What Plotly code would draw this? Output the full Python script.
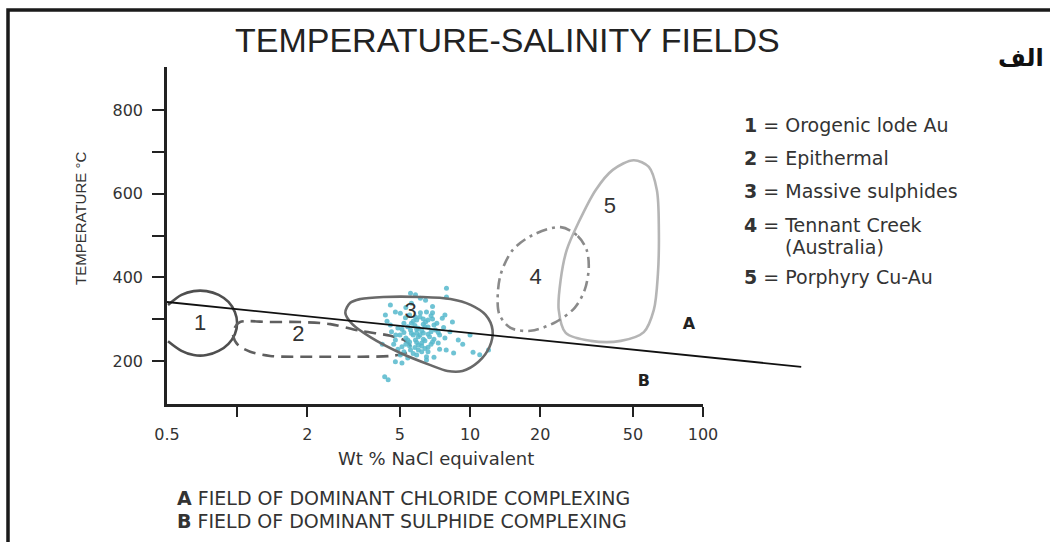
import math
import plotly.graph_objects as go

# ---------------- data (salinity wt% NaCl eq., temperature degC) ----------------
f1_sal = [0.505, 0.577, 0.651, 0.739, 0.833, 0.918, 0.978, 1.0, 0.978, 0.918, 0.833, 0.739, 0.651, 0.577, 0.505]
f1_temp = [334, 358, 367, 367, 358, 341, 317, 291, 264, 241, 224, 214, 214, 224, 247]

f2_sal = [1.03, 1.386, 1.866, 2.512, 3.381, 4.55, 5.278, 5.545, 5.278, 4.55, 3.381, 2.512, 1.866, 1.386, 1.138, 1.01, 0.961, 0.98, 1.03]
f2_temp = [293, 293, 293, 288, 272, 260, 248, 234, 219, 212, 210, 210, 210, 212, 222, 238, 262, 281, 293]

f3_sal = [2.914, 3.061, 3.381, 4.245, 6.124, 8.24, 10.05, 11.66, 12.49, 12.13, 10.87, 9.28, 8.0, 6.761, 5.024, 3.732, 3.123, 2.914]
f3_temp = [315, 339, 348, 353, 353, 348, 334, 310, 274, 234, 198, 176, 176, 190, 219, 257, 288, 315]

f4_sal = [24.49, 28.98, 31.68, 32.32, 31.06, 28.13, 23.31, 18.2, 14.93, 13.39, 13.13, 13.52, 15.23, 18.56, 24.49]
f4_temp = [520, 499, 465, 422, 370, 327, 293, 272, 279, 310, 346, 406, 465, 501, 520]

f5_sal = [50.46, 58.53, 63.37, 64.64, 64.0, 61.5, 55.72, 44.37, 32.97, 25.74, 24.02, 24.49, 25.99, 29.27, 34.64, 41.0, 50.46]
f5_temp = [680, 664, 609, 513, 406, 322, 269, 248, 248, 267, 322, 394, 465, 532, 609, 657, 680]

boundary_sal = [0.5, 264]
boundary_temp = [341, 186]

ms_sal = [5.55, 5.83, 6.12, 7.92, 7.92, 4.55, 4.78, 4.33, 5.02, 5.28, 5.83, 6.12, 6.44, 6.44, 4.55, 4.9, 5.55, 5.9, 5.3, 5.83, 6.2, 4.78, 5.1, 5.55, 5.02, 5.4, 5.9, 4.78, 5.1, 4.3, 4.45,
          6.5, 6.9, 7.6, 7.8, 8.4, 6.6, 7.1, 6.3, 7.4, 7.8, 6.9, 7.3, 6.6, 7.9, 8.5, 10.0, 10.3, 12.0, 7.0, 6.5, 7.4,
          5.6, 5.8, 6.0, 6.2, 5.7, 6.0, 6.3, 5.5, 6.0, 6.4, 5.2, 5.4, 6.7, 6.8, 5.0, 4.6, 4.4, 5.9, 6.1, 7.2,
          7.7, 6.9, 5.3, 5.7, 6.2, 6.5, 4.9, 5.3, 5.6, 6.9, 8.9, 9.3, 8.2, 11.0, 4.2,
          5.7, 6.3, 6.6, 5.2, 5.9, 6.4, 5.6, 6.1, 6.6, 5.4, 5.9, 6.4, 6.8, 5.8, 6.2, 5.5, 6.0, 6.6, 7.0, 7.3,
          5.1, 4.8, 6.3, 7.0, 5.5, 6.8, 4.7, 5.2]
ms_temp = [362, 358, 350, 374, 353, 334, 317, 310, 314, 303, 305, 315, 345, 293, 286, 279, 274, 267, 255, 250, 243, 250, 234, 226, 214, 207, 214, 198, 195, 162, 155,
           317, 315, 302, 310, 293, 281, 274, 267, 262, 255, 245, 243, 233, 226, 219, 262, 221, 226, 209, 202, 228,
           290, 285, 278, 272, 262, 258, 252, 245, 238, 230, 268, 282, 258, 270, 262, 270, 295, 298, 305, 290,
           280, 300, 240, 218, 222, 210, 228, 328, 338, 330, 250, 240, 270, 215, 240,
           295, 288, 298, 290, 276, 282, 266, 262, 264, 250, 244, 248, 240, 232, 236, 236, 226, 222, 252, 268,
           276, 262, 300, 286, 310, 308, 240, 222]

field_labels = ["1", "2", "3", "4", "5"]
field_label_sal = [0.693, 1.83, 5.55, 19.1, 39.8]
field_label_temp = [286, 262, 317, 398, 568]

region_labels = ["<b>A</b>", "<b>B</b>"]
region_label_sal = [87, 55.7]
region_label_temp = [286, 150]

x_tickvals = [0.5, 2, 5, 10, 20, 50, 100]
x_ticktext = ["0.5", "2", "5", "10", "20", "50", "100"]
x_tickmarks = [1, 2, 5, 10, 20, 50, 100]
y_tickvals = [200, 300, 400, 500, 600, 700, 800]
y_ticktext = ["200", "", "400", "", "600", "", "800"]

legend_items = ["<b>1</b> = Orogenic lode Au", "<b>2</b> = Epithermal", "<b>3</b> = Massive sulphides",
                "<b>4</b> = Tennant Creek", "(Australia)", "<b>5</b> = Porphyry Cu-Au"]
bottom_notes = ["<b>A</b> FIELD OF DOMINANT CHLORIDE COMPLEXING", "<b>B</b> FIELD OF DOMINANT SULPHIDE COMPLEXING"]

# ---------------- layout geometry ----------------
W, H = 1050, 542
L, R, T, B = 167, 245, 67, 138
pw, ph = W - L - R, H - T - B
x_axis_end_px = 703
d1 = (x_axis_end_px - L) / pw
xlo, xhi = math.log10(0.5), math.log10(100)
x2hi = xlo + (xhi - xlo) / d1

def px(xp):
    return (xp - L) / pw

def py(yp):
    return (H - B - yp) / ph

fig = go.Figure()

def outline(xs, ys, color, dash="solid", width=2.6):
    fig.add_trace(go.Scatter(x=xs, y=ys, mode="lines", line=dict(color=color, width=width, dash=dash, shape="spline", smoothing=0.9),
                             hoverinfo="skip", showlegend=False))

outline(f5_sal, f5_temp, "#b5b5b5")
outline(f4_sal, f4_temp, "#8a8a8a", dash="11px,5px,3px,5px")
outline(f1_sal, f1_temp, "#4f4f4f")
outline(f2_sal, f2_temp, "#5f5f5f", dash="12px,7px")

fig.add_trace(go.Scatter(x=ms_sal, y=ms_temp, mode="markers",
                         marker=dict(color="#56b8cd", size=5, symbol="circle", opacity=0.85, line=dict(width=0)),
                         hoverinfo="skip", showlegend=False))
outline(f3_sal, f3_temp, "#696969")

fig.add_trace(go.Scatter(x=boundary_sal, y=boundary_temp, mode="lines", xaxis="x2", yaxis="y",
                         line=dict(color="#111111", width=1.8), hoverinfo="skip", showlegend=False))

fig.add_trace(go.Scatter(x=field_label_sal, y=field_label_temp, mode="text", text=field_labels,
                         textfont=dict(family="Liberation Sans", size=22, color="#333333"),
                         hoverinfo="skip", showlegend=False))
fig.add_trace(go.Scatter(x=region_label_sal, y=region_label_temp, mode="text", text=region_labels,
                         textfont=dict(family="DejaVu Sans", size=16, color="#222222"),
                         hoverinfo="skip", showlegend=False))

fig.update_layout(
    width=W, height=H, margin=dict(l=L, r=R, t=T, b=B),
    paper_bgcolor="white", plot_bgcolor="rgba(0,0,0,0)",
    xaxis=dict(type="log", domain=[0, d1], range=[xlo, xhi], showgrid=False, zeroline=False,
               showline=True, linecolor="#222222", linewidth=2.5,
               tickmode="array", tickvals=x_tickvals, ticktext=x_ticktext, ticks="",
               ticklabelstandoff=14,
               minor=dict(tickmode="array", tickvals=x_tickmarks, ticks="outside", ticklen=10, tickwidth=2, tickcolor="#222222"),
               tickfont=dict(family="DejaVu Sans", size=16, color="#333333"), anchor="y"),
    xaxis2=dict(type="log", domain=[0, 1], range=[xlo, x2hi], visible=False, anchor="y"),
    yaxis=dict(range=[97, 903], showgrid=False, zeroline=False, showline=True, linecolor="#222222", linewidth=2.5,
               tickmode="array", tickvals=y_tickvals, ticktext=y_ticktext, ticks="outside", ticklen=12,
               tickwidth=2, tickcolor="#222222", ticklabelstandoff=6,
               tickfont=dict(family="DejaVu Sans", size=16, color="#333333"), anchor="x"),
)

ann = []
ann.append(dict(text="TEMPERATURE-SALINITY FIELDS", x=px(507), y=py(40), xref="paper", yref="paper",
                xanchor="center", yanchor="middle", showarrow=False,
                font=dict(family="Liberation Sans", size=34, color="#222222")))
ann.append(dict(text="<b>الف</b>", x=px(1021), y=py(58), xref="paper", yref="paper",
                xanchor="center", yanchor="middle", showarrow=False,
                font=dict(family="DejaVu Sans", size=24, color="#111111")))
ann.append(dict(text="TEMPERATURE °C", x=px(80), y=py(219), xref="paper", yref="paper", textangle=-90,
                xanchor="center", yanchor="middle", showarrow=False,
                font=dict(family="Liberation Sans", size=15, color="#333333")))
ann.append(dict(text="Wt % NaCl equivalent", x=px(436), y=py(458), xref="paper", yref="paper",
                xanchor="center", yanchor="middle", showarrow=False,
                font=dict(family="DejaVu Sans", size=18, color="#333333")))
leg_pos = [(742, 125), (742, 158), (742, 191), (742, 225), (783, 247), (742, 277)]
for txt, (lx, ly) in zip(legend_items, leg_pos):
    ann.append(dict(text=txt, x=px(lx), y=py(ly), xref="paper", yref="paper", xanchor="left", yanchor="middle",
                    showarrow=False, font=dict(family="DejaVu Sans", size=19, color="#333333")))
for txt, ly in zip(bottom_notes, [498, 521]):
    ann.append(dict(text=txt, x=px(175), y=py(ly), xref="paper", yref="paper", xanchor="left", yanchor="middle",
                    showarrow=False, font=dict(family="DejaVu Sans", size=19, color="#333333")))
fig.update_layout(annotations=ann)

# picture frame
xl, yt, xr, yb = px(8), py(10), px(1055), py(548)
fig.add_shape(type="path", path=f"M {xl},{yb} L {xl},{yt} L {xr},{yt}", xref="paper", yref="paper",
              line=dict(color="#1a1a1a", width=3.5))

fig.write_html("out.html")
